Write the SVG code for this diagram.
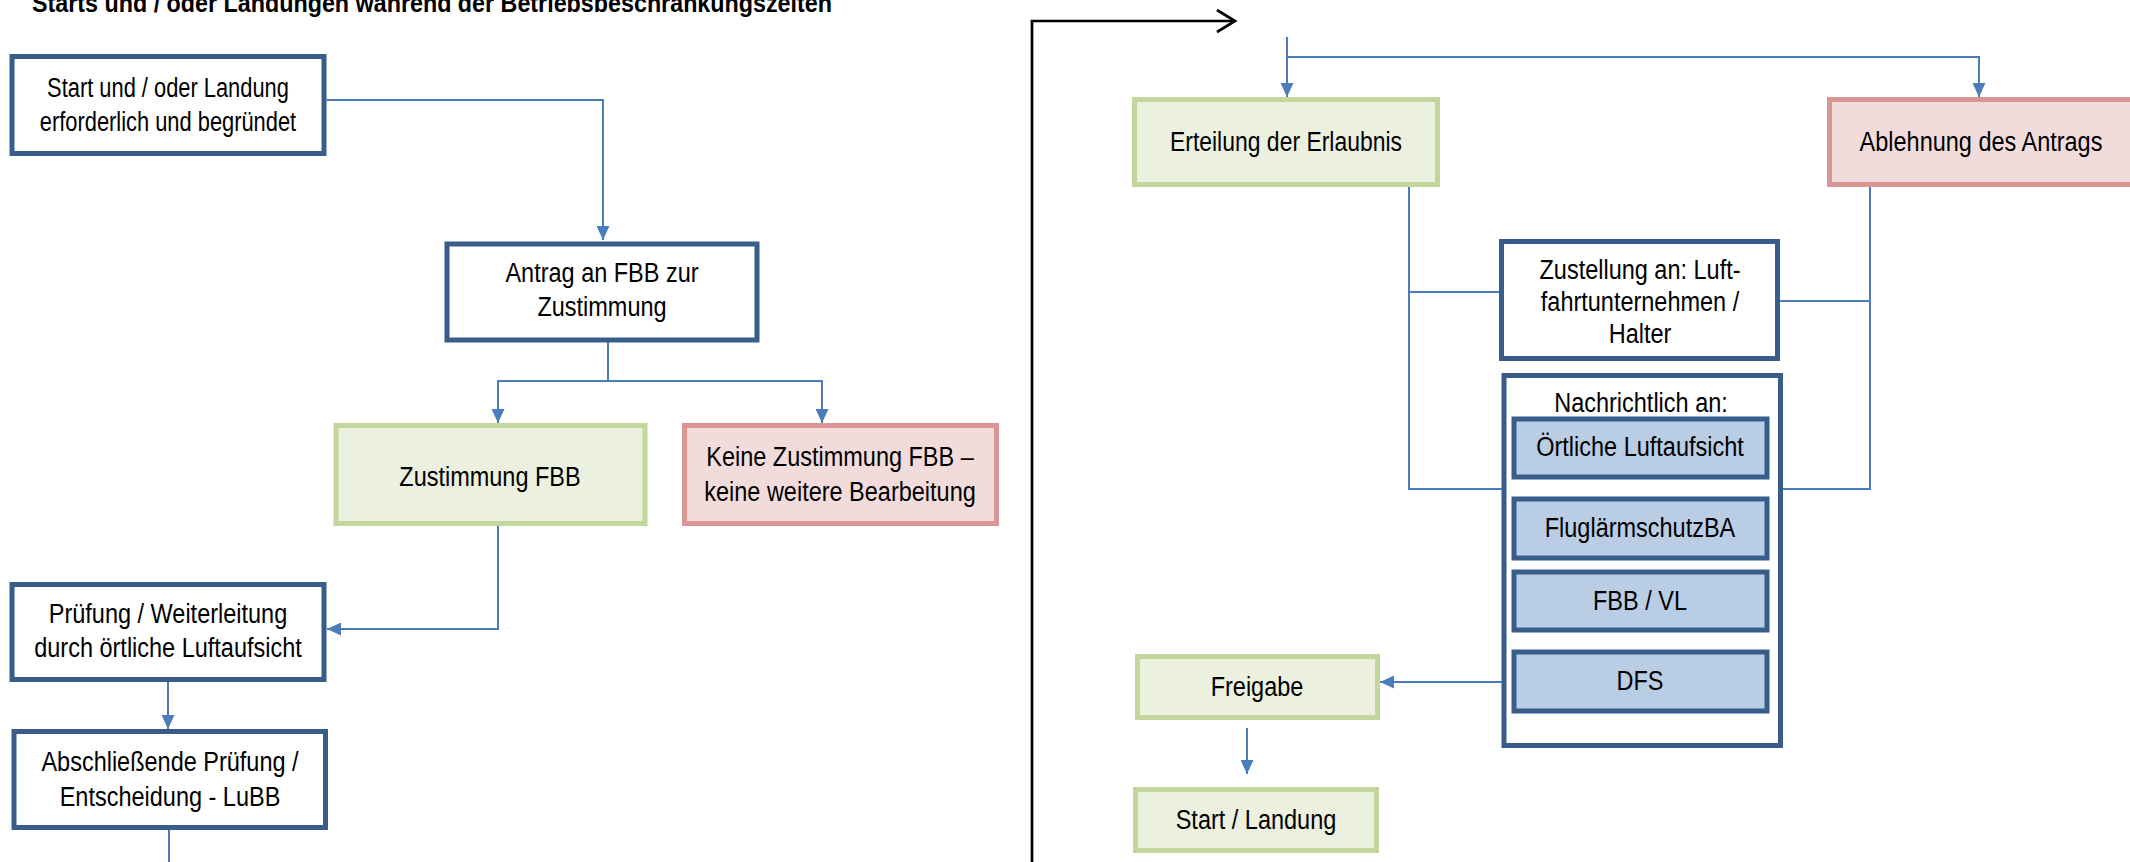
<svg xmlns="http://www.w3.org/2000/svg" width="2130" height="862" viewBox="0 0 2130 862">
<defs>
<style>
.bx{stroke-width:5}
.dk{fill:#ffffff;stroke:#385D8A}
.gr{fill:#EBF1DE;stroke:#C3D69B}
.rd{fill:#F2DCDB;stroke:#D99694}
.bl{fill:#B9CDE5;stroke:#385D8A}
.t{font-family:"Liberation Sans",Arial,sans-serif;font-size:27px;fill:#000;text-anchor:middle}
.ttl{font-family:"Liberation Sans",Arial,sans-serif;font-size:26px;font-weight:bold;fill:#000}
.c{fill:none;stroke:#4A7EBB;stroke-width:2}
.k{fill:none;stroke:#000;stroke-width:2.7}
</style>
<marker id="ah" markerUnits="userSpaceOnUse" markerWidth="14" markerHeight="13" refX="14" refY="6.5" orient="auto">
<path d="M0,0 L14,6.5 L0,13 z" fill="#4A7EBB"/>
</marker>
</defs>
<rect width="2130" height="862" fill="#ffffff"/>
<text id="title" class="ttl" x="32" y="12" textLength="800" lengthAdjust="spacingAndGlyphs">Starts und / oder Landungen während der Betriebsbeschränkungszeiten</text>

<g id="connectors">
<polyline class="c" points="326.5,100 603,100 603,240" marker-end="url(#ah)"/>
<polyline class="c" points="608,342 608,381 498,381 498,423" marker-end="url(#ah)"/>
<polyline class="c" points="608,381 822,381 822,423" marker-end="url(#ah)"/>
<polyline class="c" points="498,526 498,629 327,629" marker-end="url(#ah)"/>
<polyline class="c" points="168,682 168,729" marker-end="url(#ah)"/>
<polyline class="c" points="169,830 169,862"/>
<polyline class="k" points="1032,862 1032,21 1234,21"/>
<polyline class="k" points="1217,10 1235,21 1217,32"/>
<polyline class="c" points="1287,37 1287,97" marker-end="url(#ah)"/>
<polyline class="c" points="1287,57 1979,57 1979,97" marker-end="url(#ah)"/>
<polyline class="c" points="1409,187 1409,489 1502,489"/>
<polyline class="c" points="1409,292 1499,292"/>
<polyline class="c" points="1870,187 1870,489 1782,489"/>
<polyline class="c" points="1780,301 1870,301"/>
<polyline class="c" points="1512,682 1380,682" marker-end="url(#ah)"/>
<polyline class="c" points="1247,728 1247,774" marker-end="url(#ah)"/>
</g>

<g id="n-start">
<rect class="bx dk" x="12" y="56.5" width="312" height="97"/>
<text class="t" transform="translate(168,0) scale(0.81,1)"><tspan x="0" y="97">Start und / oder Landung</tspan><tspan x="0" y="131">erforderlich und begründet</tspan></text>
</g>
<g id="n-antrag">
<rect class="bx dk" x="447" y="244" width="310" height="96"/>
<text class="t" transform="translate(602,0) scale(0.87,1)"><tspan x="0" y="282">Antrag an FBB zur</tspan><tspan x="0" y="316">Zustimmung</tspan></text>
</g>
<g id="n-zustimmung">
<rect class="bx gr" x="336" y="425.5" width="309" height="98"/>
<text class="t" transform="translate(490,486) scale(0.87,1)" x="0" y="0">Zustimmung FBB</text>
</g>
<g id="n-keine">
<rect class="bx rd" x="684.5" y="425.5" width="312" height="98"/>
<text class="t" transform="translate(840,0) scale(0.87,1)"><tspan x="0" y="466">Keine Zustimmung FBB –</tspan><tspan x="0" y="501">keine weitere Bearbeitung</tspan></text>
</g>
<g id="n-pruefung">
<rect class="bx dk" x="12" y="584.5" width="312" height="95"/>
<text class="t" transform="translate(168,0) scale(0.87,1)"><tspan x="0" y="623">Prüfung / Weiterleitung</tspan><tspan x="0" y="657">durch örtliche Luftaufsicht</tspan></text>
</g>
<g id="n-abschluss">
<rect class="bx dk" x="14" y="731.5" width="311.5" height="96"/>
<text class="t" transform="translate(170,0) scale(0.87,1)"><tspan x="0" y="771">Abschließende Prüfung /</tspan><tspan x="0" y="806">Entscheidung - LuBB</tspan></text>
</g>
<g id="n-erteilung">
<rect class="bx gr" x="1134.5" y="99.5" width="303" height="85"/>
<text class="t" transform="translate(1286,151) scale(0.85,1)" x="0" y="0">Erteilung der Erlaubnis</text>
</g>
<g id="n-ablehnung">
<rect class="bx rd" x="1829.5" y="99.5" width="320" height="85"/>
<text class="t" transform="translate(1981,151) scale(0.87,1)" x="0" y="0">Ablehnung des Antrags</text>
</g>
<g id="n-zustellung">
<rect class="bx dk" x="1501.5" y="241.5" width="276" height="117"/>
<text class="t" transform="translate(1640,0) scale(0.87,1)"><tspan x="0" y="279">Zustellung an: Luft-</tspan><tspan x="0" y="311">fahrtunternehmen /</tspan><tspan x="0" y="343">Halter</tspan></text>
</g>
<g id="n-nachrichtlich">
<rect class="bx dk" x="1504" y="375.5" width="276.5" height="370"/>
<text class="t" transform="translate(1641,412) scale(0.87,1)" x="0" y="0">Nachrichtlich an:</text>
</g>
<g id="n-oertliche">
<rect class="bx bl" x="1514" y="419" width="253" height="58"/>
<text class="t" transform="translate(1640,456) scale(0.87,1)" x="0" y="0">Örtliche Luftaufsicht</text>
</g>
<g id="n-fluglaerm">
<rect class="bx bl" x="1514" y="499" width="253" height="59"/>
<text class="t" transform="translate(1640,537) scale(0.87,1)" x="0" y="0">FluglärmschutzBA</text>
</g>
<g id="n-fbbvl">
<rect class="bx bl" x="1514" y="572" width="253" height="58"/>
<text class="t" transform="translate(1640,610) scale(0.87,1)" x="0" y="0">FBB / VL</text>
</g>
<g id="n-dfs">
<rect class="bx bl" x="1514" y="652" width="253" height="59"/>
<text class="t" transform="translate(1640,690) scale(0.87,1)" x="0" y="0">DFS</text>
</g>
<g id="n-freigabe">
<rect class="bx gr" x="1137.5" y="656.5" width="240" height="61"/>
<text class="t" transform="translate(1257,696) scale(0.87,1)" x="0" y="0">Freigabe</text>
</g>
<g id="n-startlandung">
<rect class="bx gr" x="1135.5" y="789.5" width="241" height="61"/>
<text class="t" transform="translate(1256,829) scale(0.87,1)" x="0" y="0">Start / Landung</text>
</g>
</svg>
